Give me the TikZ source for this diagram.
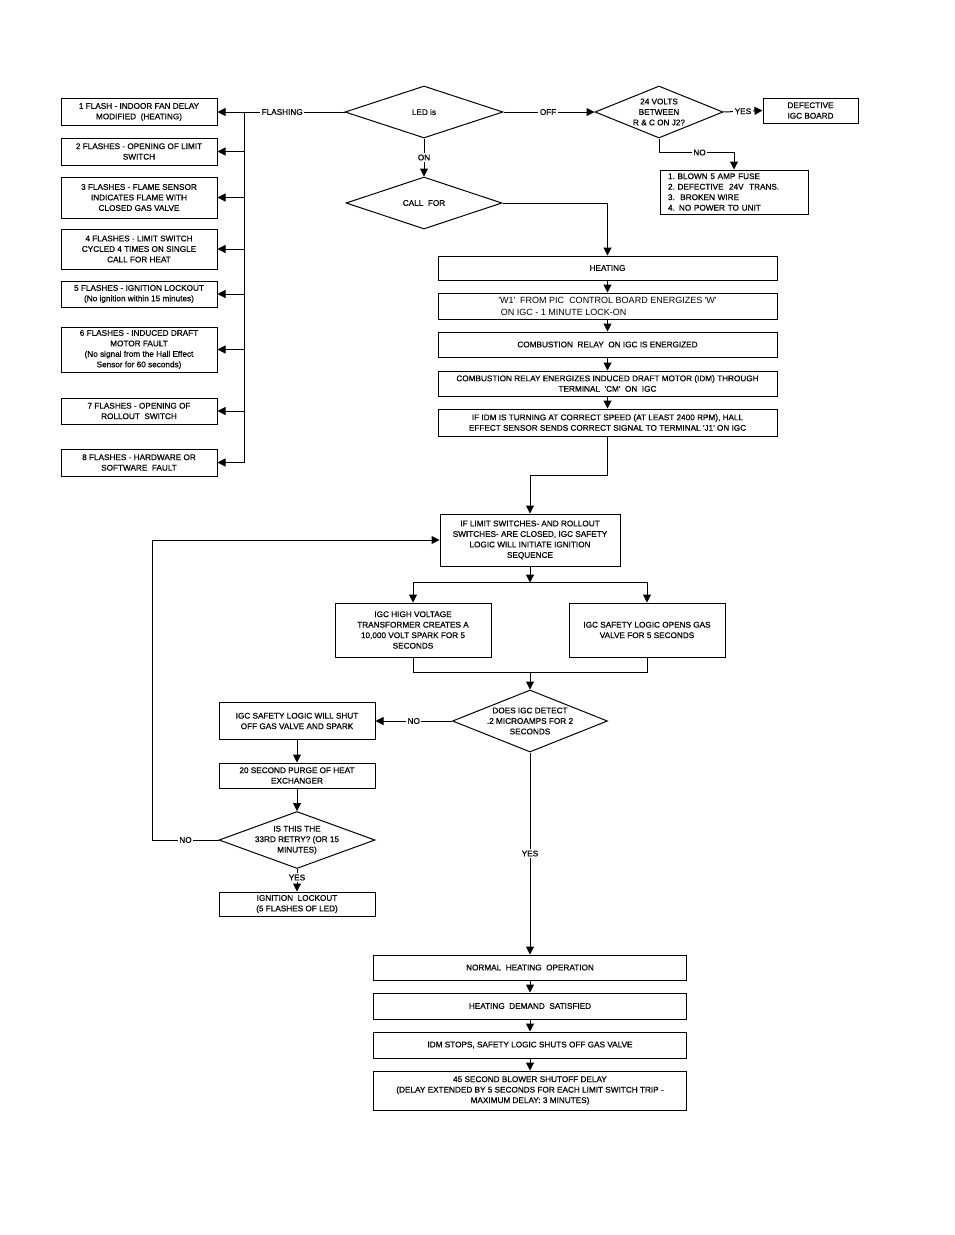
\documentclass[tikz,border=0pt]{standalone}
\usepackage{fontspec}
\newfontfamily\chartfont[FakeBold=0.5]{Liberation Sans}
\newfontfamily\plainfont{Liberation Sans}
\usetikzlibrary{arrows.meta, shapes.geometric, positioning, calc}

\begin{document}
\begin{tikzpicture}[x=1pt,y=-1pt,
    every node/.style={font=\chartfont\fontsize{8.2}{10.5}\selectfont},
    every label/.style={align=center},
    stepbox/.style={draw,line width=1pt,align=center,inner sep=2pt},
    flashbox/.style={stepbox,minimum width=156pt},
    heatbox/.style={stepbox,minimum width=339pt},
    runbox/.style={stepbox,minimum width=313pt},
    decision/.style={draw,diamond,line width=1pt,inner sep=0pt},
    wire/.style={line width=1pt},
    arr/.style={wire,-{Triangle[length=8pt,width=8pt]}},
    tag/.style={fill=white,inner sep=1.5pt}
  ]
  \useasboundingbox (0,0) rectangle (954,1235);

  % flash codes
  \node[flashbox,minimum height=27pt] (f1) at (139,112) {1 FLASH - INDOOR FAN DELAY\\MODIFIED\ \ (HEATING)};
  \node[flashbox,minimum height=27pt] (f2) at (139,151.5) {2 FLASHES - OPENING OF LIMIT\\SWITCH};
  \node[flashbox,minimum height=41pt] (f3) at (139,197.5) {3 FLASHES - FLAME SENSOR\\INDICATES FLAME WITH\\CLOSED GAS VALVE};
  \node[flashbox,minimum height=40pt] (f4) at (139,249) {4 FLASHES - LIMIT SWITCH\\CYCLED 4 TIMES ON SINGLE\\CALL FOR HEAT};
  \node[flashbox,minimum height=26pt] (f5) at (139,294) {5 FLASHES - IGNITION LOCKOUT\\(No ignition within 15 minutes)};
  \node[flashbox,minimum height=45pt] (f6) at (139,349.5) {6 FLASHES - INDUCED DRAFT\\MOTOR FAULT\\(No signal from the Hall Effect\\Sensor for 60 seconds)};
  \node[flashbox,minimum height=26pt] (f7) at (139,411) {7 FLASHES - OPENING OF\\ROLLOUT\ \ SWITCH};
  \node[flashbox,minimum height=27pt] (f8) at (139,462.5) {8 FLASHES - HARDWARE OR\\SOFTWARE\ \ FAULT};
  \coordinate (bustop) at (244,112);
  \coordinate (busbot) at (244,462.5);

  % LED check
  \node[decision,minimum width=158pt,minimum height=52pt,label=center:{LED is}] (led) at (424,112) {};
  \node[decision,minimum width=128pt,minimum height=52pt,label=center:{24 VOLTS\\BETWEEN\\R \& C ON J2?}] (v24) at (659,112) {};
  \node[stepbox,minimum width=95pt,minimum height=25pt] (bad) at (810.5,110.5) {DEFECTIVE\\IGC BOARD};
  \node[draw,line width=1pt,align=left,text width=132pt,inner xsep=8pt,inner ysep=2pt,minimum height=44pt] (causes) at (734,192)
    {1.\ BLOWN 5 AMP FUSE\\2.\ DEFECTIVE\ \ 24V\ \ TRANS.\\3.\ \ BROKEN WIRE\\4. NO POWER TO UNIT};
  \node[decision,minimum width=156pt,minimum height=52pt,label=center:{CALL\ \ FOR}] (call) at (424,203) {};

  % heating sequence
  \node[heatbox,minimum height=24pt] (heat) at (607.5,268) {HEATING};
  \node[heatbox,minimum height=26pt,align=left,font=\plainfont\fontsize{9}{12}\selectfont] (w1) at (607.5,306) {'W1'\ \ FROM PIC\ \ CONTROL BOARD ENERGIZES 'W'\\\ ON IGC - 1 MINUTE LOCK-ON};
  \node[heatbox,minimum height=25pt] (relay) at (607.5,344.5) {COMBUSTION\ \ RELAY\ \ ON IGC IS ENERGIZED};
  \node[heatbox,minimum height=25pt] (idm) at (607.5,383.5) {COMBUSTION RELAY ENERGIZES INDUCED DRAFT MOTOR (IDM) THROUGH\\TERMINAL\ \ 'CM'\ \ ON\ \ IGC};
  \node[heatbox,minimum height=27pt] (hall) at (607.5,422.5) {IF IDM IS TURNING AT CORRECT SPEED (AT LEAST 2400 RPM), HALL\\EFFECT SENSOR SENDS CORRECT SIGNAL TO TERMINAL 'J1' ON IGC};

  % ignition
  \node[stepbox,minimum width=180pt,minimum height=52pt] (limit) at (530,540) {IF LIMIT SWITCHES- AND ROLLOUT\\SWITCHES- ARE CLOSED, IGC SAFETY\\LOGIC WILL INITIATE IGNITION\\SEQUENCE};
  \node[stepbox,minimum width=156pt,minimum height=54pt] (spark) at (413,630) {IGC HIGH VOLTAGE\\TRANSFORMER CREATES A\\10,000 VOLT SPARK FOR 5\\SECONDS};
  \node[stepbox,minimum width=156pt,minimum height=54pt] (gas) at (647,630) {IGC SAFETY LOGIC OPENS GAS\\VALVE FOR 5 SECONDS};
  \node[decision,minimum width=155pt,minimum height=62pt,label=center:{DOES IGC DETECT\\.2 MICROAMPS FOR 2\\SECONDS}] (detect) at (530,721) {};
  \node[stepbox,minimum width=156pt,minimum height=37pt] (shut) at (297,721) {IGC SAFETY LOGIC WILL SHUT\\OFF GAS VALVE AND SPARK};
  \node[stepbox,minimum width=156pt,minimum height=25pt] (purge) at (297,775.5) {20 SECOND PURGE OF HEAT\\EXCHANGER};
  \node[decision,minimum width=156pt,minimum height=57pt,label=center:{IS THIS THE\\33RD RETRY? (OR 15\\MINUTES)}] (retry) at (297,840) {};
  \node[stepbox,minimum width=156pt,minimum height=24pt] (lockout) at (297,904) {IGNITION\ \ LOCKOUT\\(5 FLASHES OF LED)};

  % normal run
  \node[runbox,minimum height=25pt] (normal) at (530,967.5) {NORMAL\ \ HEATING\ \ OPERATION};
  \node[runbox,minimum height=26pt] (demand) at (530,1006) {HEATING\ \ DEMAND\ \ SATISFIED};
  \node[runbox,minimum height=26pt] (stops) at (530,1045) {IDM STOPS, SAFETY LOGIC SHUTS OFF GAS VALVE};
  \node[runbox,minimum height=39pt] (delay) at (530,1090.5) {45 SECOND BLOWER SHUTOFF DELAY\\(DELAY EXTENDED BY 5 SECONDS FOR EACH LIMIT SWITCH TRIP -\\MAXIMUM DELAY: 3 MINUTES)};

  % connectors
  \draw[wire] (led.west) -- node[tag,pos=0.62]{FLASHING} (bustop) -- (busbot);
  \foreach \i in {1,...,8}
    \draw[arr] (f\i.east -| bustop) -- (f\i.east);
  \draw[arr] (led.east) -- node[tag,pos=0.49]{OFF} (v24.west);
  \draw[arr] (v24.east) -- node[tag]{YES} (bad.west);
  \draw[arr] (v24.south) -- ++(0,14) -| node[tag,pos=0.27]{NO} (causes.north);
  \draw[arr] (led.south) -- node[tag]{ON} (call.north);
  \draw[arr] (call.east) -| (heat.north);
  \draw[arr] (heat) -- (w1);
  \draw[arr] (w1) -- (relay);
  \draw[arr] (relay) -- (idm);
  \draw[arr] (idm) -- (hall);
  \draw[arr] (hall.south) -- ++(0,39) -| (limit.north);
  \draw[arr] (limit.south) -- ++(0,16) coordinate (split);
  \draw[arr] (split) -| (spark.north);
  \draw[arr] (split) -| (gas.north);
  \coordinate (join) at ($(spark.south)!0.5!(gas.south)+(0,15)$);
  \draw[wire] (spark.south) |- (join) -| (gas.south);
  \draw[arr] (join) -- (detect.north);
  \draw[arr] (detect.west) -- node[tag]{NO} (shut.east);
  \draw[arr] (shut) -- (purge);
  \draw[arr] (purge.south) -- (retry.north);
  \draw[arr] (retry.west) -- node[tag]{NO} ++(-66,0) |- (limit.west);
  \draw[arr] (retry.south) -- node[tag,pos=0.38]{YES} (lockout.north);
  \draw[arr] (detect.south) -- node[tag]{YES} (normal.north);
  \draw[arr] (normal) -- (demand);
  \draw[arr] (demand) -- (stops);
  \draw[arr] (stops) -- (delay);
\end{tikzpicture}
\end{document}
